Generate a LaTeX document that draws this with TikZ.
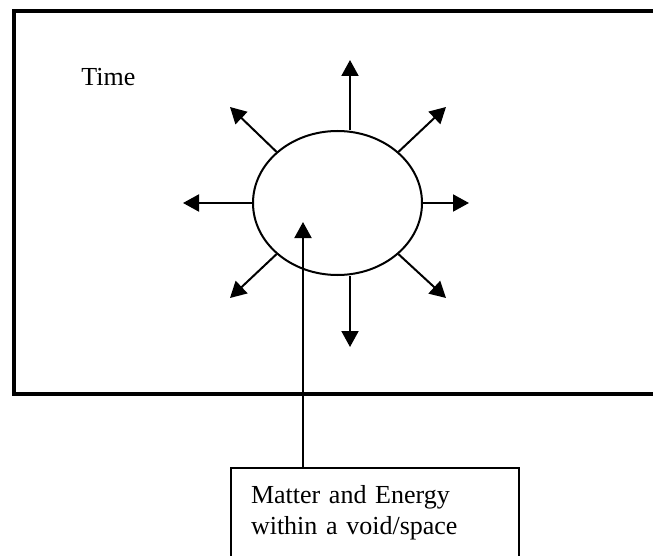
\documentclass[tikz,border=0pt]{standalone}
\usepackage{fontspec}
\setmainfont{Liberation Serif}
\usetikzlibrary{arrows.meta, shapes.geometric, positioning}
\tikzset{
  frame/.style={draw, line width=2pt},
  core/.style={
    ellipse, draw, line width=1pt, minimum width=84.5pt,
    minimum height=72pt, inner sep=0pt
  },
  ray/.style={-{Triangle[length=8pt,width=8.5pt]}, line width=1pt},
  tag/.style={font=\fontsize{13}{15.5}\selectfont, inner sep=0pt},
  infobox/.style={
    tag, draw, line width=1pt, anchor=north west, align=left,
    text width=124pt, inner xsep=10pt, inner ysep=0pt,
    text height=17.5pt, text depth=50pt
  },
}
\begin{document}
\begin{tikzpicture}[x=0.5pt, y=-0.5pt]
  \clip (0,0) rectangle (653,556);
  \draw[frame] (14,11) rectangle (670,394);

  \node[tag, anchor=base west] (timelabel) at (81,86) {Time};
  \node[core] (core) at (337.5,203) {};
  \node[infobox] (info) at (230,467) {Matter and Energy\\within a void/space};

  \coordinate (up) at (350,60);
  \coordinate (down) at (350,347);
  \coordinate (left) at (183,203);
  \coordinate (right) at (469,203);
  \coordinate (nw) at (230,107);
  \coordinate (ne) at (446,107);
  \coordinate (sw) at (230,298);
  \coordinate (se) at (446,298);
  \coordinate (inward) at (303,222);

  \draw[ray] (core.north -| up) -- (up);
  \draw[ray] (core.south -| down) -- (down);
  \draw[ray] (core.west) -- (left);
  \draw[ray] (core.east) -- (right);
  \draw[ray] (core.140) -- (nw);
  \draw[ray] (core.40) -- (ne);
  \draw[ray] (core.220) -- (sw);
  \draw[ray] (core.320) -- (se);
  \draw[ray] (info.north -| inward) -- (inward);
\end{tikzpicture}
\end{document}
